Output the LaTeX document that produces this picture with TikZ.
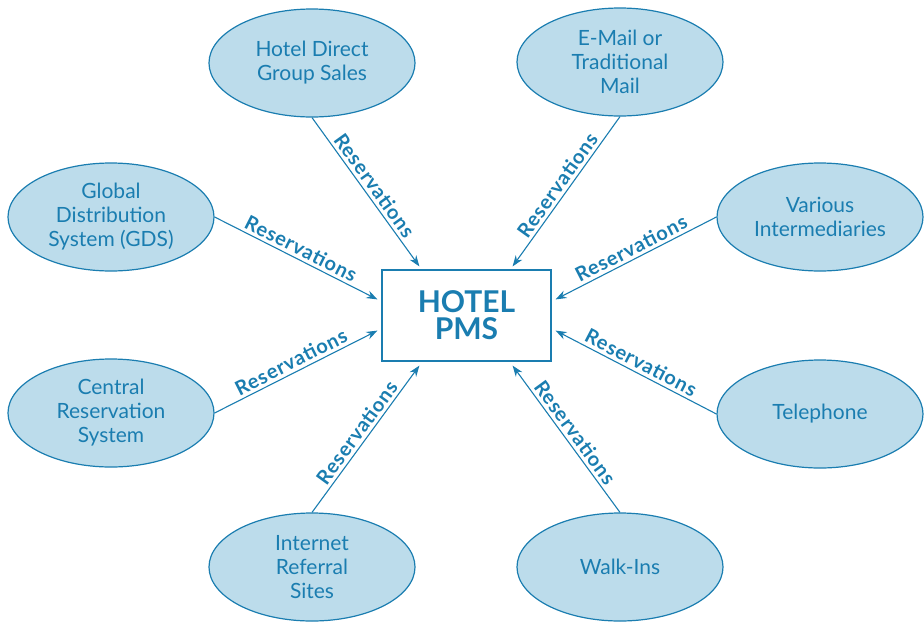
\documentclass[tikz,border=0pt]{standalone}
\usepackage{fontspec}
\setmainfont{Lato}
\usetikzlibrary{arrows.meta,shapes.geometric,calc}
\definecolor{hblue}{HTML}{1A7DB0}
\definecolor{hfill}{HTML}{BCDCEB}
\tikzset{
  src/.style={ellipse, draw=hblue, line width=1.2pt, fill=hfill, text=hblue,
    minimum width=206pt, minimum height=108pt, inner sep=0pt, align=center,
    font=\fontsize{21}{24}\selectfont},
  pmsbox/.style={rectangle, draw=hblue, line width=1.2pt, fill=white, text=hblue,
    minimum width=169pt, minimum height=91pt, inner sep=0pt, align=center,
    font=\fontsize{30}{27}\selectfont\bfseries},
  flow/.style={draw=hblue, line width=1.1pt, -{Stealth[length=11pt,width=8pt]}},
  lbl/.style={sloped, above, midway, text=hblue, inner sep=3pt,
    font=\fontsize{20}{22}\selectfont\bfseries\addfontfeature{LetterSpace=4}}
}
\begin{document}
\begin{tikzpicture}[x=1pt,y=-1pt]
\useasboundingbox (0,0) rectangle (924,622);
\node[pmsbox] (pms) at (466.5,315.5) {HOTEL\\PMS};
\node[src] (hd) at (312,63) {Hotel Direct\\Group Sales};
\node[src] (em) at (620,62) {E-Mail or\\Traditional\\Mail};
\node[src] (gds) at (111,217) {Global\\Distribution\\System (GDS)};
\node[src] (vi) at (820,217) {Various\\Intermediaries};
\node[src] (crs) at (111,413) {Central\\Reservation\\System};
\node[src] (tel) at (820,414) {Telephone};
\node[src] (irs) at (312,567) {Internet\\Referral\\Sites};
\node[src] (wi) at (620,567) {Walk-Ins};

\coordinate (tNW) at ($(pms.north west)+(38,-3)$);
\coordinate (tNE) at ($(pms.north east)+(-39,-3)$);
\coordinate (lU) at ($(pms.north west)+(-4,30)$);
\coordinate (lD) at ($(pms.south west)+(-4,-31)$);
\coordinate (rU) at ($(pms.north east)+(4,30)$);
\coordinate (rD) at ($(pms.south east)+(4,-31)$);
\coordinate (bL) at ($(pms.south west)+(38,4)$);
\coordinate (bR) at ($(pms.south east)+(-39,4)$);

\draw[flow] (hd.south) -- node[lbl] {Reservations} (tNW);
\draw[flow] (em.south) -- node[lbl] {Reservations} (tNE);
\draw[flow] (gds.east) -- node[lbl] {Reservations} (lU);
\draw[flow] (vi.west) -- node[lbl] {Reservations} (rU);
\draw[flow] (crs.east) -- node[lbl] {Reservations} (lD);
\draw[flow] (tel.west) -- node[lbl] {Reservations} (rD);
\draw[flow] (irs.north) -- node[lbl] {Reservations} (bL);
\draw[flow] (wi.north) -- node[lbl] {Reservations} (bR);
\end{tikzpicture}
\end{document}
